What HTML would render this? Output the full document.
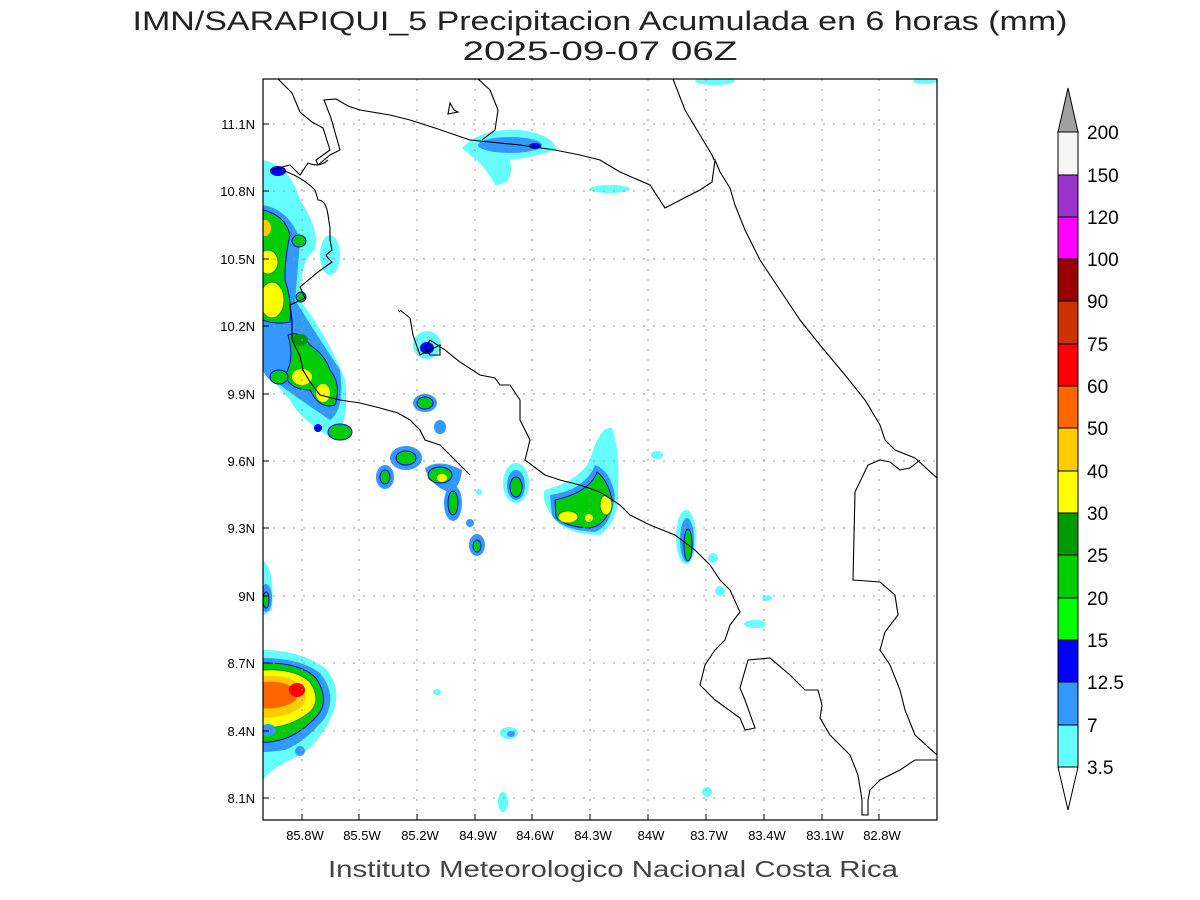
<!DOCTYPE html>
<html><head><meta charset="utf-8"><style>
html,body{margin:0;padding:0;background:#fff;}
svg{display:block;font-family:"Liberation Sans",sans-serif;}
</style></head><body>
<svg width="1200" height="900" viewBox="0 0 1200 900" xmlns="http://www.w3.org/2000/svg">
<rect width="1200" height="900" fill="#fff"/>
<text x="600" y="30" font-size="27" text-anchor="middle" fill="#222" textLength="935" lengthAdjust="spacingAndGlyphs">IMN/SARAPIQUI_5 Precipitacion Acumulada en 6 horas (mm)</text>
<text x="600" y="60" font-size="27" text-anchor="middle" fill="#222" textLength="275" lengthAdjust="spacingAndGlyphs">2025-09-07 06Z</text>
<text x="613" y="877" font-size="23" text-anchor="middle" fill="#444" textLength="570" lengthAdjust="spacingAndGlyphs">Instituto Meteorologico Nacional Costa Rica</text>
<defs><clipPath id="pc"><rect x="263" y="79" width="674" height="741"/></clipPath></defs>
<g clip-path="url(#pc)">
<!-- precipitation -->
<g>
<!-- north blob -->
<path d="M462,148 Q480,128 520,130 Q555,135 556,150 Q530,158 510,160 Q515,185 495,185 Q485,165 470,155 Z" fill="#66ffff"/>
<ellipse cx="510" cy="145" rx="32" ry="8" fill="#3399ff"/>
<ellipse cx="535" cy="146" rx="6" ry="3" fill="#0000ff"/>
<ellipse cx="610" cy="189" rx="20" ry="4" fill="#66ffff"/>
<ellipse cx="715" cy="81" rx="20" ry="4" fill="#66ffff"/>
<ellipse cx="925" cy="81" rx="12" ry="3" fill="#66ffff"/>
<!-- west coast column -->
<path d="M263,160 Q290,165 300,200 Q320,230 315,250 Q300,260 300,300 Q330,340 345,380 Q350,420 335,440 Q300,420 290,400 Q270,380 263,360 Z" fill="#66ffff"/>
<path d="M263,205 Q290,210 300,240 Q298,270 295,300 Q320,340 340,370 Q345,410 330,420 Q300,400 280,385 Q266,380 263,370 Z" fill="#3399ff"/>
<path d="M263,210 Q285,215 290,235 Q285,255 285,280 Q292,300 290,322 Q275,325 263,320 Z" fill="#00cc00" stroke="#0000ff" stroke-width="1"/>
<ellipse cx="268" cy="262" rx="10" ry="12" fill="#ffff00" stroke="#009900"/>
<ellipse cx="272" cy="300" rx="12" ry="18" fill="#ffff00" stroke="#009900"/>
<ellipse cx="265" cy="228" rx="6" ry="8" fill="#ffcc00"/>
<ellipse cx="299" cy="241" rx="7" ry="6" fill="#00cc00" stroke="#0000ff"/>
<ellipse cx="301" cy="297" rx="5" ry="5" fill="#00cc00" stroke="#0000ff"/>
<ellipse cx="278" cy="171" rx="8" ry="5" fill="#0000ff"/>
<path d="M288,335 Q300,330 310,345 Q325,355 330,370 Q342,385 335,405 Q320,410 310,390 Q290,390 285,375 Q295,360 288,335 Z" fill="#00cc00" stroke="#0000ff"/>
<ellipse cx="300" cy="340" rx="8" ry="6" fill="#009900"/>
<ellipse cx="302" cy="377" rx="10" ry="8" fill="#ffff00"/>
<ellipse cx="323" cy="393" rx="7" ry="9" fill="#ffff00"/>
<ellipse cx="279" cy="377" rx="9" ry="7" fill="#00cc00" stroke="#0000ff"/>
<ellipse cx="340" cy="432" rx="12" ry="8" fill="#00cc00" stroke="#0000ff"/>
<ellipse cx="318" cy="428" rx="4" ry="4" fill="#0000ff"/>
<ellipse cx="330" cy="255" rx="10" ry="20" fill="#66ffff"/>
<!-- Nicoya small -->
<ellipse cx="427" cy="345" rx="14" ry="14" fill="#66ffff"/>
<ellipse cx="427" cy="348" rx="7" ry="6" fill="#0000ff"/>
<ellipse cx="425" cy="403" rx="12" ry="9" fill="#3399ff"/>
<ellipse cx="425" cy="403" rx="8" ry="6" fill="#00cc00" stroke="#0000ff"/>
<ellipse cx="440" cy="427" rx="6" ry="7" fill="#3399ff"/>
<!-- central row -->
<ellipse cx="385" cy="477" rx="9" ry="12" fill="#3399ff"/><ellipse cx="385" cy="477" rx="5" ry="7" fill="#00cc00" stroke="#0000ff"/>
<ellipse cx="406" cy="458" rx="16" ry="12" fill="#3399ff"/><ellipse cx="406" cy="458" rx="10" ry="7" fill="#00cc00" stroke="#0000ff"/>
<path d="M425,468 Q440,458 462,470 Q460,490 448,492 Q430,485 425,468 Z" fill="#3399ff"/>
<ellipse cx="440" cy="475" rx="12" ry="8" fill="#00cc00" stroke="#0000ff"/><ellipse cx="442" cy="478" rx="5" ry="4" fill="#ffff00"/>
<ellipse cx="453" cy="503" rx="9" ry="18" fill="#3399ff"/><ellipse cx="453" cy="503" rx="5" ry="12" fill="#00cc00" stroke="#0000ff"/>
<ellipse cx="470" cy="523" rx="4" ry="4" fill="#3399ff"/>
<ellipse cx="477" cy="545" rx="8" ry="11" fill="#3399ff"/><ellipse cx="477" cy="546" rx="4" ry="6" fill="#00cc00" stroke="#0000ff"/>
<ellipse cx="479" cy="492" rx="3" ry="3" fill="#66ffff"/>
<ellipse cx="516" cy="483" rx="13" ry="20" fill="#66ffff"/><ellipse cx="516" cy="485" rx="9" ry="15" fill="#3399ff"/><ellipse cx="516" cy="487" rx="6" ry="10" fill="#00cc00" stroke="#0000ff"/>
<!-- 84.3 blob -->
<path d="M545,490 Q580,480 590,460 Q600,425 612,428 Q620,450 618,490 Q620,520 600,535 Q570,535 555,520 Q540,500 545,490 Z" fill="#66ffff"/>
<path d="M550,495 Q585,490 595,465 Q610,470 615,495 Q612,525 595,532 Q560,530 552,515 Z" fill="#3399ff"/>
<path d="M555,500 Q590,492 597,472 Q608,480 612,500 Q608,525 590,528 Q565,527 556,517 Z" fill="#00cc00" stroke="#0000ff"/>
<ellipse cx="568" cy="517" rx="10" ry="6" fill="#ffff00" stroke="#009900"/>
<ellipse cx="606" cy="505" rx="6" ry="10" fill="#ffff00" stroke="#009900"/>
<ellipse cx="589" cy="518" rx="4" ry="4" fill="#ffff00"/>
<ellipse cx="657" cy="455" rx="6" ry="4" fill="#66ffff"/>
<!-- 83.7 -->
<ellipse cx="686" cy="537" rx="10" ry="27" fill="#66ffff"/><ellipse cx="687" cy="540" rx="7" ry="22" fill="#3399ff"/><ellipse cx="688" cy="545" rx="4" ry="16" fill="#00cc00" stroke="#0000ff"/>
<ellipse cx="713" cy="558" rx="5" ry="5" fill="#66ffff"/>
<ellipse cx="720" cy="591" rx="5" ry="5" fill="#66ffff"/>
<ellipse cx="767" cy="598" rx="5" ry="3" fill="#66ffff"/>
<ellipse cx="755" cy="624" rx="11" ry="4" fill="#66ffff"/>
<ellipse cx="707" cy="792" rx="5" ry="5" fill="#66ffff"/>
<ellipse cx="509" cy="733" rx="9" ry="6" fill="#66ffff"/><ellipse cx="511" cy="734" rx="4" ry="3" fill="#3399ff"/>
<ellipse cx="503" cy="802" rx="5" ry="10" fill="#66ffff"/>
<ellipse cx="437" cy="692" rx="4" ry="3" fill="#66ffff"/>
<!-- southwest big -->
<path d="M263,560 Q275,570 272,610 Q265,615 263,615 Z" fill="#66ffff"/>
<ellipse cx="266" cy="598" rx="6" ry="14" fill="#3399ff"/><ellipse cx="266" cy="600" rx="3" ry="8" fill="#00cc00" stroke="#0000ff"/>
<path d="M263,650 Q300,650 325,668 Q345,690 330,720 Q315,750 290,760 Q270,770 263,780 Z" fill="#66ffff"/>
<path d="M263,658 Q300,658 320,673 Q338,695 325,718 Q305,742 285,750 Q270,752 263,752 Z" fill="#3399ff"/>
<path d="M263,663 Q300,662 316,678 Q330,700 318,715 Q300,735 280,740 Q268,743 263,742 Z" fill="#00cc00" stroke="#0000ff"/>
<path d="M263,670 Q295,668 310,682 Q322,700 310,712 Q290,728 263,728 Z" fill="#ffff00" stroke="#009900"/>
<path d="M263,676 Q290,674 302,686 Q310,700 300,708 Q285,718 263,718 Z" fill="#ffcc00"/>
<path d="M263,682 Q285,680 296,690 Q300,700 290,704 Q275,710 263,708 Z" fill="#ff6600"/>
<ellipse cx="297" cy="690" rx="8" ry="7" fill="#ff0000"/>
<ellipse cx="300" cy="751" rx="5" ry="5" fill="#3399ff"/>
<ellipse cx="268" cy="730" rx="8" ry="6" fill="#3399ff"/>
</g>
<!-- grid -->
<g stroke="#999" stroke-width="1" stroke-dasharray="2,8">
<path d="M302,79V820M359,79V820M417,79V820M475,79V820M532,79V820M590,79V820M648,79V820M706,79V820M764,79V820M822,79V820M879,79V820"/>
<path d="M263,124H937M263,191H937M263,259H937M263,326H937M263,394H937M263,461H937M263,528H937M263,596H937M263,663H937M263,731H937M263,798H937"/>
</g>
<!-- coastlines -->
<g fill="none" stroke="#000" stroke-width="1.1">
<path d="M278,79 L292,93 L300,112 L312,122 L323,128 L330,150 L316,160 L318,165 L330,155 L340,150 L331,118 L324,100 L336,99 L348,106 L360,110 L390,115 L410,120 L435,128 L470,140 L520,145 L555,150 L580,155 L600,160 L620,172 L650,185 L665,208 L690,195 L700,190 L712,182 L715,160 L720,172 L730,188 L735,205 L745,230 L760,260 L780,290 L800,320 L820,345 L845,375 L865,400 L880,425 L885,440 L895,450 L915,458 L937,478"/>
<path d="M328,160 Q320,168 308,163 L300,175 L290,165 L270,170"/>
<path d="M278,169 Q300,175 315,190 L318,200 Q326,200 328,215 L330,228 L330,240 L332,250 L326,255 L328,258 L332,262 L318,272 L300,287 L305,298 L290,305 L292,320 L292,340 L300,356 L303,370 L310,382 L320,395 L340,400 L360,403 L380,408 L398,413 L410,420 L420,430 L425,440 L440,445 L450,455 L460,465 L470,475"/>
<path d="M400,310 L410,318 L413,335 L420,355 L430,350 L440,345 L440,355 L430,355 L425,348 L430,340 L445,350 L460,362 L480,375 L495,378 L500,385 L510,385 L520,400 L520,420 L530,440 L525,460 L545,475 L560,480 L580,485 L600,492 L620,505 L630,515 L650,525 L675,535 L695,550 L710,565 L720,580 L730,590 L740,612 L730,625 L725,640 L715,650 L705,665 L700,685 L715,700 L740,718 L745,730 L755,728 L745,700 L740,688 L748,660 L770,658 L790,675 L805,690 L818,690 L822,705 L820,718 L830,735 L850,755 L858,775 L862,800 L862,815 L868,815 L868,800 L870,790 L880,780 L900,770 L915,760 L937,760"/>
<path d="M855,492 L868,465 L880,460 L890,462 L900,470 L910,468 L920,460"/>
<path d="M855,492 L853,580 L880,582 L895,595 L898,615 L885,632 L880,650 L890,665 L900,690 L905,710 L915,735 L937,755"/>
<path d="M450,103 L454,110 L458,112 L448,114 Z"/>
<path d="M478,79 L490,90 L498,110 L495,130 L482,140"/>
<path d="M673,79 L685,110 L700,135 L712,155 L714,160"/>
<path d="M400,312 L398,310"/>
</g>
</g>
<rect x="263" y="79" width="674" height="741" fill="none" stroke="#000" stroke-width="1.2"/>
<!-- ticks -->
<g stroke="#000" stroke-width="1">
<path d="M302,820v-6M359,820v-6M417,820v-6M475,820v-6M532,820v-6M590,820v-6M648,820v-6M706,820v-6M764,820v-6M822,820v-6M879,820v-6"/>
<path d="M263,124h6M263,191h6M263,259h6M263,326h6M263,394h6M263,461h6M263,528h6M263,596h6M263,663h6M263,731h6M263,798h6"/>
</g>
<g font-size="13" fill="#000" text-anchor="middle">
<text x="305" y="840">85.8W</text><text x="362" y="840">85.5W</text><text x="420" y="840">85.2W</text><text x="478" y="840">84.9W</text><text x="535" y="840">84.6W</text><text x="593" y="840">84.3W</text><text x="651" y="840">84W</text><text x="709" y="840">83.7W</text><text x="767" y="840">83.4W</text><text x="825" y="840">83.1W</text><text x="882" y="840">82.8W</text>
</g>
<g font-size="13" fill="#000" text-anchor="end">
<text x="255" y="129">11.1N</text><text x="255" y="196">10.8N</text><text x="255" y="264">10.5N</text><text x="255" y="331">10.2N</text><text x="255" y="399">9.9N</text><text x="255" y="466">9.6N</text><text x="255" y="533">9.3N</text><text x="255" y="601">9N</text><text x="255" y="668">8.7N</text><text x="255" y="736">8.4N</text><text x="255" y="803">8.1N</text>
</g>
<!-- colorbar -->
<g stroke="#000" stroke-width="1">
<path d="M1068,88 L1078,132 L1058,132 Z" fill="#a0a0a0"/>
<rect x="1058" y="132" width="20" height="43" fill="#f5f5f5"/>
<rect x="1058" y="175" width="20" height="42" fill="#9933cc"/>
<rect x="1058" y="217" width="20" height="42" fill="#ff00ff"/>
<rect x="1058" y="259" width="20" height="42" fill="#990000"/>
<rect x="1058" y="301" width="20" height="43" fill="#cc3300"/>
<rect x="1058" y="344" width="20" height="42" fill="#ff0000"/>
<rect x="1058" y="386" width="20" height="42" fill="#ff6600"/>
<rect x="1058" y="428" width="20" height="43" fill="#ffcc00"/>
<rect x="1058" y="471" width="20" height="42" fill="#ffff00"/>
<rect x="1058" y="513" width="20" height="42" fill="#009900"/>
<rect x="1058" y="555" width="20" height="43" fill="#00cc00"/>
<rect x="1058" y="598" width="20" height="42" fill="#00ff00"/>
<rect x="1058" y="640" width="20" height="42" fill="#0000ff"/>
<rect x="1058" y="682" width="20" height="43" fill="#3399ff"/>
<rect x="1058" y="725" width="20" height="42" fill="#66ffff"/>
<path d="M1058,767 L1078,767 L1068,810 Z" fill="#fff"/>
</g>
<g font-size="19" fill="#000">
<text x="1087" y="139">200</text><text x="1087" y="182">150</text><text x="1087" y="224">120</text><text x="1087" y="266">100</text><text x="1087" y="308">90</text><text x="1087" y="351">75</text><text x="1087" y="393">60</text><text x="1087" y="435">50</text><text x="1087" y="478">40</text><text x="1087" y="520">30</text><text x="1087" y="562">25</text><text x="1087" y="605">20</text><text x="1087" y="647">15</text><text x="1087" y="689">12.5</text><text x="1087" y="732">7</text><text x="1087" y="774">3.5</text>
</g>
</svg>
</body></html>
